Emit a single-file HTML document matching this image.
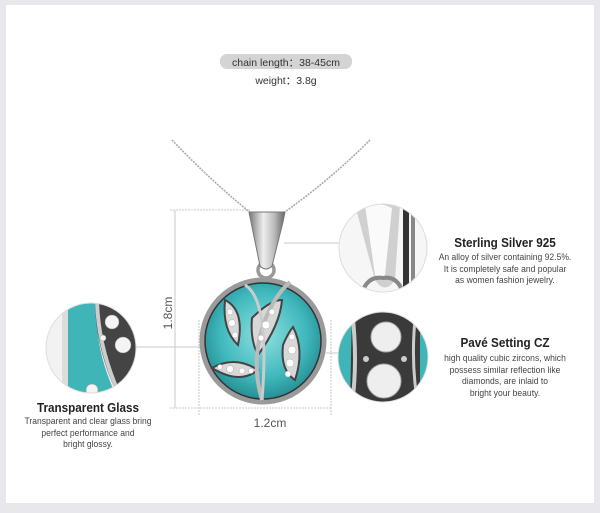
<!DOCTYPE html>
<html><head><meta charset="utf-8"><style>
html,body{margin:0;padding:0}
body{width:600px;height:513px;background:#e7e7ec;position:relative;overflow:hidden;font-family:"Liberation Sans",sans-serif;color:#333}
.w{position:absolute;left:6px;top:5px;width:588px;height:498px;background:#fff}
.t{position:absolute;text-align:center;white-space:nowrap}
.h{font-size:13px;color:#222;font-weight:bold;transform:scaleX(.9)}
.s{font-size:9.5px;color:#444;line-height:11.5px;transform:scaleX(.9)}
</style></head><body>
<div class="w"></div>
<div style="position:absolute;left:220px;top:54px;width:132px;height:15px;border-radius:7px;background:#d4d4d4"></div>
<div class="t" style="left:220px;width:132px;top:55px;font-size:10.5px;color:#333">chain length：38-45cm</div>
<div class="t" style="left:236px;width:100px;top:73px;font-size:10.5px;color:#333">weight：3.8g</div>
<svg width="600" height="513" style="position:absolute;left:0;top:0">
<defs>
<radialGradient id="tg" cx="50%" cy="45%" r="60%"><stop offset="0" stop-color="#8fe0e0"/><stop offset=".6" stop-color="#3fb8bc"/><stop offset="1" stop-color="#1d7f86"/></radialGradient>
<linearGradient id="sv" x1="0" x2="1"><stop offset="0" stop-color="#777"/><stop offset=".4" stop-color="#eee"/><stop offset=".7" stop-color="#bbb"/><stop offset="1" stop-color="#666"/></linearGradient>
<clipPath id="c1"><circle cx="91" cy="348" r="45"/></clipPath>
<clipPath id="c2"><circle cx="383" cy="248" r="44"/></clipPath>
<clipPath id="c3"><circle cx="383" cy="357" r="45"/></clipPath>
</defs>
<!-- dimension lines -->
<g stroke="#c8c8c8" stroke-width="1" fill="none">
<line x1="175" y1="210" x2="175" y2="408"/>
<line x1="170" y1="210" x2="250" y2="210" stroke-dasharray="2,1"/>
<line x1="170" y1="408" x2="332" y2="408" stroke-dasharray="2,1"/>
<line x1="199" y1="320" x2="199" y2="416" stroke-dasharray="2,1"/>
<line x1="331" y1="320" x2="331" y2="416" stroke-dasharray="2,1"/>
<line x1="136" y1="347" x2="201" y2="347"/>
<line x1="284" y1="243" x2="339" y2="243"/>
<line x1="326" y1="353" x2="339" y2="353"/>
</g>
<!-- chain -->
<g stroke="#aaa" stroke-width="1.6" fill="none" stroke-dasharray="2,1">
<path d="M172 140 Q210 180 252 214"/>
<path d="M370 140 Q330 180 282 214"/>
</g>
<!-- bail -->
<circle cx="266" cy="270" r="8" fill="none" stroke="#999" stroke-width="3.5"/>
<path d="M249 212 L285 212 L283 222 L272 266 Q266 272 260 266 L251 222 Z" fill="url(#sv)" stroke="#777" stroke-width="1"/>
<!-- pendant -->
<circle cx="263" cy="341" r="60" fill="url(#tg)"/>
<circle cx="263" cy="341" r="61" fill="none" stroke="#9a9a9a" stroke-width="5"/>
<circle cx="263" cy="341" r="58" fill="none" stroke="#333" stroke-width="1.5"/>
<g fill="#d8d8d8" stroke="#444" stroke-width="2">
<path d="M225 300 Q245 310 238 345 Q222 330 225 300Z"/>
<path d="M252 318 Q270 300 282 300 Q280 325 258 355 Q250 340 252 318Z"/>
<path d="M293 327 Q305 350 295 380 Q280 370 283 345 Q288 333 293 327Z"/>
<path d="M212 368 Q235 355 258 370 Q240 385 212 368Z"/>
</g>
<path d="M262 400 Q250 360 265 320 Q275 295 290 282" stroke="#bbb" stroke-width="4" fill="none"/>
<path d="M245 285 Q270 300 262 400" stroke="#ccc" stroke-width="3" fill="none"/>
<g fill="#fff" stroke="#aaa" stroke-width=".5">
<circle cx="230" cy="312" r="3"/><circle cx="232" cy="323" r="3.5"/><circle cx="235" cy="335" r="3"/>
<circle cx="272" cy="312" r="3"/><circle cx="266" cy="325" r="4"/><circle cx="261" cy="338" r="3"/>
<circle cx="292" cy="337" r="3"/><circle cx="292" cy="350" r="4"/><circle cx="290" cy="363" r="4"/><circle cx="288" cy="374" r="3"/>
<circle cx="220" cy="367" r="2.5"/><circle cx="230" cy="369" r="3.5"/><circle cx="242" cy="371" r="3"/><circle cx="251" cy="371" r="2.5"/>
</g>
<!-- left detail -->
<g clip-path="url(#c1)">
<rect x="40" y="300" width="100" height="100" fill="#f2f2f2"/>
<path d="M62 300 L62 400 L95 400 Q75 360 95 300Z" fill="#dcdcdc"/>
<path d="M68 300 L100 300 Q90 340 118 400 L68 400Z" fill="#3fb5b8"/>
<path d="M95 300 L140 300 L140 400 L120 400 Q95 350 95 300Z" fill="#444"/>
<path d="M97 300 Q98 350 122 400" stroke="#ccc" stroke-width="4" fill="none"/>
<g fill="#f4f4f4" stroke="#999" stroke-width=".5"><circle cx="112" cy="322" r="7"/><circle cx="123" cy="345" r="8"/><circle cx="103" cy="338" r="3"/><circle cx="92" cy="390" r="6"/></g>
</g>
<circle cx="91" cy="348" r="45" fill="none" stroke="#ddd"/>
<!-- top right detail -->
<g clip-path="url(#c2)">
<rect x="330" y="200" width="110" height="100" fill="#f6f6f6"/>
<path d="M355 205 Q375 200 400 205 L395 280 Q385 295 375 280Z" fill="#d0d0d0"/>
<path d="M365 205 Q380 202 392 208 L385 275 Q380 285 375 275Z" fill="#fafafa"/>
<rect x="403" y="200" width="6" height="90" fill="#333"/>
<rect x="411" y="200" width="4" height="90" fill="#888"/>
<path d="M360 300 Q365 275 383 278 Q400 275 405 300" stroke="#888" stroke-width="4" fill="none"/>
</g>
<circle cx="383" cy="248" r="44" fill="none" stroke="#ddd"/>
<!-- bottom right detail -->
<g clip-path="url(#c3)">
<rect x="330" y="310" width="110" height="100" fill="#3a3a3a"/>
<path d="M335 310 L352 310 L350 405 L335 405Z" fill="#3fb5b8"/>
<path d="M352 310 Q358 360 352 405" stroke="#ccc" stroke-width="4" fill="none"/>
<path d="M420 310 L432 310 L432 405 L420 405Z" fill="#3fb5b8"/>
<path d="M416 310 Q410 360 418 405" stroke="#ccc" stroke-width="3" fill="none"/>
<circle cx="386" cy="337" r="15" fill="#eee" stroke="#aaa"/>
<circle cx="384" cy="381" r="17" fill="#eee" stroke="#aaa"/>
<circle cx="366" cy="359" r="3" fill="#ccc"/><circle cx="404" cy="359" r="3" fill="#ccc"/>
</g>
<circle cx="383" cy="357" r="45" fill="none" stroke="#ddd"/>
<text x="168" y="313" font-size="12" fill="#555" font-family="Liberation Sans" text-anchor="middle" transform="rotate(-90 168 313)" dy="4">1.8cm</text>
<text x="270" y="427" font-size="12" fill="#555" font-family="Liberation Sans" text-anchor="middle">1.2cm</text>
</svg>
<div class="t h" style="left:435px;width:140px;top:235px">Sterling Silver 925</div>
<div class="t s" style="left:420px;width:170px;top:252px">An alloy of silver containing 92.5%.<br>It is completely safe and popular<br>as women fashion jewelry.</div>
<div class="t h" style="left:435px;width:140px;top:335px">Pavé Setting CZ</div>
<div class="t s" style="left:420px;width:170px;top:353px">high quality cubic zircons, which<br>possess similar reflection like<br>diamonds, are inlaid to<br>bright your beauty.</div>
<div class="t h" style="left:18px;width:140px;top:400px">Transparent Glass</div>
<div class="t s" style="left:3px;width:170px;top:416px">Transparent and clear glass bring<br>perfect performance and<br>bright glossy.</div>
</body></html>
